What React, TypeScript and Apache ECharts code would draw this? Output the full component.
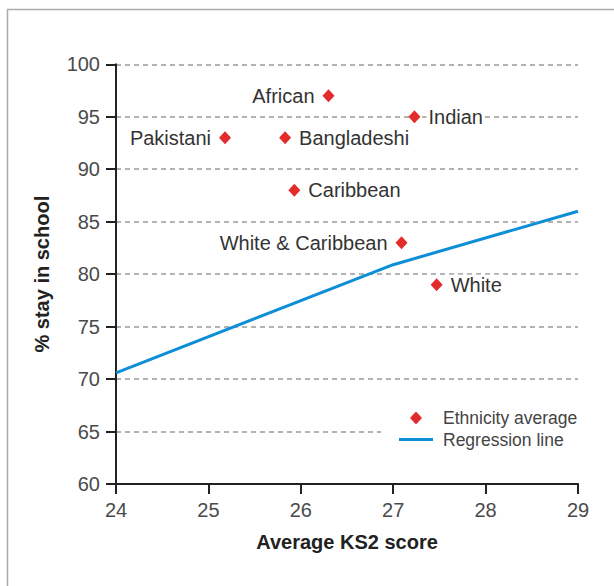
import React, { useEffect, useRef } from "react";
import * as echarts from "echarts";

const groups = ["African", "Indian", "Pakistani", "Bangladeshi", "Caribbean", "White & Caribbean", "White"];
const ks2Scores = [26.3, 27.23, 25.18, 25.83, 25.93, 27.09, 27.47];
const stayPercent = [97, 95, 93, 93, 88, 83, 79];
const labelSides = ["left", "right", "left", "right", "right", "left", "right"];

const regressionX = [24, 27, 29];
const regressionY = [70.6, 80.9, 86.0];

const FONT = "'Liberation Sans', Arial, sans-serif";

export default function App() {
  const ref = useRef<HTMLDivElement>(null);
  useEffect(() => {
    if (!ref.current) return;
    const chart = echarts.init(ref.current, null, { renderer: "svg" });
    const scatterData = groups.map((g, i) => ({
      name: g,
      value: [ks2Scores[i], stayPercent[i]],
      label: { position: labelSides[i] },
    }));
    const lineData = regressionX.map((x, i) => [x, regressionY[i]]);
    chart.setOption({
      animation: false,
      textStyle: { fontFamily: FONT },
      graphic: [
        {
          type: "rect",
          shape: { x: 7.5, y: 9.5, width: 700, height: 700 },
          style: { fill: "none", stroke: "#aaaaaa", lineWidth: 1.5 },
          silent: true,
          z: -10,
        },
      ],
      grid: { left: 116, top: 64.3, right: 36, bottom: 102 },
      xAxis: {
        type: "value",
        min: 24,
        max: 29,
        interval: 1,
        name: "Average KS2 score",
        nameLocation: "middle",
        nameGap: 48,
        nameTextStyle: { fontFamily: FONT, fontSize: 20, fontWeight: "bold", color: "#222" },
        axisLine: { lineStyle: { color: "#222", width: 2 } },
        axisTick: { show: true, length: 10, lineStyle: { color: "#222", width: 2 } },
        axisLabel: { margin: 16, fontFamily: FONT, fontSize: 20, color: "#4a4a4a" },
        splitLine: { show: false },
      },
      yAxis: {
        type: "value",
        min: 60,
        max: 100,
        interval: 5,
        name: "% stay in school",
        nameLocation: "middle",
        nameGap: 64,
        nameTextStyle: { fontFamily: FONT, fontSize: 20, fontWeight: "bold", color: "#222" },
        axisLine: { show: true, lineStyle: { color: "#222", width: 2 } },
        axisTick: { show: true, length: 10, lineStyle: { color: "#222", width: 2 } },
        axisLabel: { margin: 16, fontFamily: FONT, fontSize: 20, color: "#4a4a4a" },
        splitLine: { show: true, lineStyle: { color: "#999", width: 1.5, type: [5, 4] } },
      },
      legend: [
        {
          data: [{ name: "Ethnicity average", icon: "diamond" }],
          left: 410,
          top: 409,
          padding: 0,
          itemWidth: 12,
          itemHeight: 13,
          z: 6,
          textStyle: { fontFamily: FONT, fontSize: 17.5, color: "#444", padding: [0, 0, 0, 16] },
        },
        {
          data: [{ name: "Regression line", icon: "rect" }],
          left: 381,
          top: 422.5,
          padding: [8, 24, 4, 18],
          backgroundColor: "#ffffff",
          itemWidth: 34,
          itemHeight: 3,
          z: 5,
          textStyle: { fontFamily: FONT, fontSize: 17.5, color: "#444", padding: [0, 0, 0, 5] },
        },
      ],
      series: [
        {
          name: "Regression line",
          type: "line",
          data: lineData,
          symbol: "none",
          showSymbol: false,
          smooth: false,
          lineStyle: { color: "#0d8fd8", width: 3 },
          itemStyle: { color: "#0d8fd8" },
          z: 3,
        },
        {
          name: "Ethnicity average",
          type: "scatter",
          data: scatterData,
          symbol: "diamond",
          symbolSize: [12, 13],
          itemStyle: { color: "#e32b2b", opacity: 1 },
          z: 4,
          label: {
            show: true,
            formatter: "{b}",
            distance: 6,
            fontFamily: FONT,
            fontSize: 20,
            color: "#333",
            backgroundColor: "#ffffff",
            padding: [0, 2],
          },
        },
      ],
    });
    return () => chart.dispose();
  }, []);
  return (
    <div
      ref={ref}
      style={{ position: "absolute", left: 0, top: 0, width: 614, height: 586, background: "#fff" }}
    />
  );
}
